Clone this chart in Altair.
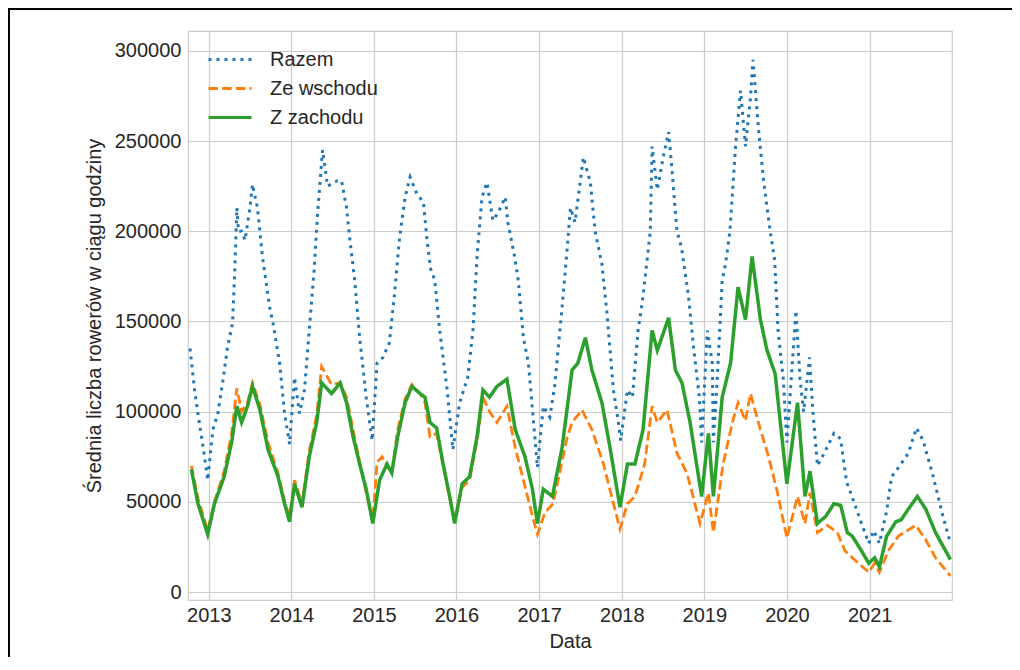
import altair as alt
import pandas as pd

# ---- data ----
razem_dates = [
    "2012-10-10", "2012-10-30", "2012-11-14", "2012-12-13", "2012-12-27",
    "2013-01-19", "2013-02-10", "2013-03-03", "2013-03-25", "2013-04-16", "2013-04-27",
    "2013-05-05", "2013-05-12", "2013-05-26", "2013-06-10", "2013-07-02", "2013-07-13",
    "2013-08-04", "2013-08-26", "2013-09-27", "2013-10-12", "2013-11-10", "2013-12-02",
    "2013-12-24",
    "2014-01-15", "2014-02-06", "2014-02-28", "2014-03-21", "2014-04-12", "2014-04-27",
    "2014-05-19", "2014-06-10", "2014-07-24", "2014-08-11", "2014-09-02", "2014-09-17",
    "2014-10-08", "2014-10-30", "2014-11-28", "2014-12-24",
    "2015-01-15", "2015-02-10", "2015-03-10", "2015-04-01", "2015-04-25", "2015-05-19",
    "2015-06-10", "2015-07-09", "2015-08-08", "2015-08-24", "2015-09-09", "2015-09-27",
    "2015-10-19", "2015-11-21", "2015-12-16",
    "2016-01-15", "2016-02-20", "2016-03-14", "2016-04-01", "2016-04-23", "2016-05-15",
    "2016-06-10", "2016-07-02", "2016-08-04", "2016-08-15", "2016-09-14", "2016-09-30",
    "2016-10-23", "2016-11-14", "2016-12-05", "2016-12-24",
    "2017-01-19", "2017-02-17", "2017-03-10", "2017-04-10", "2017-05-05", "2017-05-19",
    "2017-06-08", "2017-07-02", "2017-07-15", "2017-08-15", "2017-09-05", "2017-10-05",
    "2017-10-27", "2017-11-25", "2017-12-16", "2017-12-27",
    "2018-01-26", "2018-02-17", "2018-03-14", "2018-04-05", "2018-05-07", "2018-05-15",
    "2018-06-07", "2018-07-03", "2018-07-27", "2018-08-11", "2018-09-02", "2018-09-22",
    "2018-10-23", "2018-11-14", "2018-12-10", "2018-12-20",
    "2019-01-14", "2019-02-05", "2019-02-10", "2019-02-27", "2019-03-21", "2019-04-05",
    "2019-04-24", "2019-05-19", "2019-06-10", "2019-07-02", "2019-07-24", "2019-08-04",
    "2019-08-29", "2019-09-20", "2019-10-19", "2019-11-08", "2019-11-23", "2019-12-16",
    "2020-01-01", "2020-01-25", "2020-02-10", "2020-02-28", "2020-03-15", "2020-04-10",
    "2020-04-25", "2020-05-15", "2020-06-10", "2020-07-27", "2020-08-25", "2020-09-21",
    "2020-10-12", "2020-11-26", "2020-12-28",
    "2021-01-19", "2021-02-13", "2021-03-17", "2021-04-08", "2021-05-08", "2021-06-21",
    "2021-07-27", "2021-08-25", "2021-10-05", "2021-11-17", "2021-12-24",
]
razem_values = [
    135000, 112000, 99000, 75000, 62000,
    90000, 99000, 116000, 136000, 149000, 182000,
    213000, 200000, 200000, 195000, 213000, 226000,
    213000, 186000, 158000, 149000, 127000, 99000,
    82000,
    119000, 99000, 112000, 145000, 179000, 210000,
    245000, 225000, 228000, 228000, 213000, 195000,
    173000, 141000, 108000, 84000,
    127000, 130000, 138000, 164000, 197000, 219000,
    230000, 221000, 216000, 195000, 179000, 173000,
    145000, 112000, 79000,
    105000, 119000, 145000, 186000, 219000, 227000,
    206000, 210000, 219000, 205000, 186000, 173000,
    141000, 127000, 97000, 69000,
    103000, 97000, 114000, 155000, 191000, 213000,
    205000, 228000, 241000, 227000, 200000, 182000,
    155000, 112000, 95000, 84000,
    112000, 108000, 145000, 164000, 200000, 247000,
    223000, 241000, 255000, 234000, 200000, 191000,
    164000, 136000, 108000, 83000,
    145000, 127000, 83000, 118000, 173000, 182000,
    200000, 247000, 278000, 247000, 274000, 295000,
    256000, 228000, 200000, 184000, 145000, 118000,
    83000, 127000, 156000, 118000, 100000, 130000,
    100000, 70000, 76000, 88000, 85000, 61000,
    54000, 38000, 27000,
    34000, 27000, 45000, 64000, 69000, 77000,
    91000, 84000, 66000, 44000, 27000,
]

zachod_dates = [
    "2012-10-16", "2012-11-14", "2012-12-27",
    "2013-01-26", "2013-03-10", "2013-04-12", "2013-05-05", "2013-05-26", "2013-06-21",
    "2013-07-13", "2013-08-15", "2013-09-20", "2013-11-03", "2013-12-02", "2013-12-24",
    "2014-01-15", "2014-02-17", "2014-03-21", "2014-04-23", "2014-05-15", "2014-06-28",
    "2014-08-05", "2014-09-02", "2014-10-01", "2014-10-30", "2014-11-28", "2014-12-27",
    "2015-01-26", "2015-02-28", "2015-03-21", "2015-04-16", "2015-05-19", "2015-06-18",
    "2015-07-24", "2015-08-15", "2015-09-06", "2015-10-05", "2015-11-03", "2015-12-02",
    "2015-12-24",
    "2016-01-26", "2016-02-28", "2016-04-01", "2016-04-27", "2016-05-26", "2016-06-28",
    "2016-08-11", "2016-09-17", "2016-10-30", "2016-12-02", "2016-12-24",
    "2017-01-19", "2017-02-28", "2017-04-12", "2017-05-26", "2017-06-21", "2017-07-24",
    "2017-08-22", "2017-10-05", "2017-11-10", "2017-12-24",
    "2018-01-26", "2018-02-28", "2018-04-05", "2018-05-15", "2018-06-07", "2018-07-27",
    "2018-08-26", "2018-09-24", "2018-10-30", "2018-12-20",
    "2019-01-19", "2019-02-10", "2019-03-21", "2019-04-27", "2019-05-30", "2019-07-02",
    "2019-07-31", "2019-09-06", "2019-10-05", "2019-11-10",
    "2020-01-01", "2020-02-17", "2020-03-21", "2020-04-12", "2020-05-15", "2020-06-21",
    "2020-07-27", "2020-08-26", "2020-09-24", "2020-10-16", "2020-11-25", "2020-12-28",
    "2021-01-23", "2021-02-13", "2021-03-17", "2021-04-27", "2021-05-20", "2021-06-21",
    "2021-07-31", "2021-09-06", "2021-10-19", "2021-12-02", "2021-12-24",
]
zachod_values = [
    68000, 49000, 32000,
    49000, 64000, 83000, 103000, 94000, 103000,
    114000, 101000, 79000, 64000, 49000, 39000,
    60000, 47000, 75000, 94000, 116000, 110000,
    116000, 105000, 86000, 71000, 57000, 38000,
    62000, 71000, 66000, 86000, 105000, 114000,
    110000, 108000, 94000, 91000, 71000, 53000,
    38000,
    60000, 64000, 86000, 112000, 108000, 114000,
    118000, 90000, 75000, 57000, 38000,
    57000, 53000, 80000, 123000, 127000, 141000,
    123000, 105000, 80000, 47000,
    71000, 71000, 90000, 145000, 134000, 152000,
    123000, 116000, 94000, 53000,
    88000, 53000, 108000, 127000, 169000, 151000,
    186000, 151000, 134000, 121000,
    60000, 105000, 53000, 67000, 38000, 42000,
    49000, 48000, 33000, 31000, 23000, 16000,
    19000, 14000, 31000, 39000, 40000, 46000,
    53000, 46000, 33000, 23000, 18000,
]

wschod_dates = [
    "2012-10-16", "2012-11-14", "2012-12-27",
    "2013-01-26", "2013-03-10", "2013-04-12", "2013-05-05", "2013-05-26", "2013-06-21",
    "2013-07-13", "2013-08-15", "2013-09-20", "2013-11-03", "2013-12-02", "2013-12-24",
    "2014-01-15", "2014-02-17", "2014-03-21", "2014-04-23", "2014-05-15", "2014-06-28",
    "2014-08-05", "2014-09-02", "2014-10-01", "2014-10-30", "2014-11-28", "2014-12-27",
    "2015-01-15", "2015-02-06", "2015-02-28", "2015-03-21", "2015-04-16", "2015-05-19",
    "2015-06-18", "2015-07-24", "2015-08-15", "2015-09-06", "2015-10-05", "2015-11-03",
    "2015-12-02", "2015-12-24",
    "2016-01-26", "2016-02-28", "2016-04-01", "2016-04-27", "2016-05-26", "2016-06-28",
    "2016-08-11", "2016-09-17", "2016-10-23", "2016-11-28", "2016-12-24",
    "2017-01-26", "2017-03-03", "2017-05-05", "2017-05-26", "2017-07-09", "2017-08-22",
    "2017-10-12", "2017-11-17", "2017-12-24",
    "2018-01-26", "2018-02-28", "2018-04-12", "2018-05-15", "2018-06-07", "2018-07-20",
    "2018-09-02", "2018-10-16", "2018-12-13",
    "2019-01-19", "2019-02-10", "2019-03-25", "2019-05-05", "2019-05-30", "2019-07-02",
    "2019-07-24", "2019-09-06", "2019-10-12", "2019-11-17",
    "2020-01-01", "2020-02-17", "2020-03-21", "2020-04-12", "2020-05-15", "2020-06-28",
    "2020-08-11", "2020-09-13", "2020-10-16", "2020-12-28",
    "2021-01-23", "2021-02-13", "2021-03-25", "2021-05-08", "2021-07-24", "2021-09-06",
    "2021-10-19", "2021-12-24",
]
wschod_values = [
    70000, 52000, 34000,
    50000, 67000, 88000, 113000, 100000, 105000,
    116000, 104000, 83000, 66000, 50000, 42000,
    62000, 49000, 78000, 98000, 125000, 115000,
    116000, 108000, 90000, 72000, 55000, 40000,
    72000, 75000, 70000, 66000, 90000, 107000,
    115000, 110000, 105000, 86000, 88000, 70000,
    52000, 40000,
    58000, 62000, 84000, 108000, 100000, 94000,
    103000, 80000, 62000, 44000, 32000,
    44000, 49000, 86000, 94000, 101000, 90000,
    71000, 53000, 35000,
    49000, 53000, 71000, 103000, 94000, 101000,
    77000, 66000, 38000,
    55000, 33000, 71000, 94000, 105000, 95000,
    110000, 90000, 75000, 57000,
    30000, 53000, 38000, 55000, 33000, 37000,
    33000, 23000, 19000, 11000,
    16000, 11000, 23000, 31000, 37000, 29000,
    19000, 9000,
]

series_names = ["Razem", "Ze wschodu", "Z zachodu"]
series_colors = ["#1f77b4", "#ff7f0e", "#2ca02c"]
series_dashes = [[3, 5], [9.5, 4.2], [1, 0]]
series_widths = [3, 2.8, 3.5]
year_ticks = list(range(2013, 2022))
y_ticks = [0, 50000, 100000, 150000, 200000, 250000, 300000]

frames = []
for name, d, v in zip(series_names,
                      [razem_dates, wschod_dates, zachod_dates],
                      [razem_values, wschod_values, zachod_values]):
    frames.append(pd.DataFrame({"Data": d, "value": v, "seria": name}))
df = pd.concat(frames, ignore_index=True)

FONT = "Liberation Sans"
TXT = "#262626"

legend = alt.Legend(
    title=None, orient="none", legendX=19, legendY=14,
    symbolType="stroke", symbolSize=1849, symbolStrokeWidth=3,
    labelFontSize=20, labelFont=FONT, labelColor=TXT,
    labelOffset=17, padding=0, rowPadding=0, clipHeight=29,
)

x_enc = alt.X(
    "Data:T",
    scale=alt.Scale(type="utc", domain=[
        alt.DateTime(year=2012, month=10, date=1, utc=True),
        alt.DateTime(year=2021, month=12, date=31, utc=True)]),
    axis=alt.Axis(
        title="Data",
        values=[alt.DateTime(year=y, month=1, date=1, utc=True) for y in year_ticks],
        format="%Y", formatType="utc", labelPadding=5, titlePadding=6,
    ),
)
y_enc = alt.Y(
    "value:Q",
    scale=alt.Scale(domain=[-4400, 311000], nice=False, zero=False),
    axis=alt.Axis(
        title="Średnia liczba rowerów w ciągu godziny",
        values=y_ticks, format="d", labelPadding=7, titlePadding=10,
    ),
)

layers = []
for name, w in zip(series_names, series_widths):
    layers.append(
        alt.Chart(df)
        .transform_filter(alt.datum.seria == name)
        .mark_line(strokeWidth=w, strokeCap="butt", clip=True)
        .encode(
            x=x_enc, y=y_enc,
            color=alt.Color("seria:N", scale=alt.Scale(domain=series_names, range=series_colors), legend=legend),
            strokeDash=alt.StrokeDash("seria:N", scale=alt.Scale(domain=series_names, range=series_dashes), legend=legend),
        )
    )

frame_src = pd.DataFrame({"k": [0]})
top_rule = alt.Chart(frame_src).mark_rule(color="black", strokeWidth=2).encode(
    x=alt.value(-180), x2=alt.value(830), y=alt.value(-22))
left_rule = alt.Chart(frame_src).mark_rule(color="black", strokeWidth=2).encode(
    x=alt.value(-179), y=alt.value(-23), y2=alt.value(650))

chart = (
    alt.layer(*layers, top_rule, left_rule)
    .properties(
        width=764, height=569,
        autosize=alt.AutoSizeParams(type="none"),
        padding={"left": 180, "top": 23, "right": 60, "bottom": 57},
    )
    .configure_view(stroke="#cccccc", strokeWidth=1.2)
    .configure_axis(
        grid=True, gridColor="#cccccc", gridWidth=1.2, domain=False, ticks=False,
        labelFont=FONT, labelFontSize=20, labelColor=TXT,
        titleFont=FONT, titleFontSize=20, titleFontWeight="normal", titleColor=TXT,
    )
)

chart.save("out.html", embed_options={"renderer": "svg", "actions": False})
